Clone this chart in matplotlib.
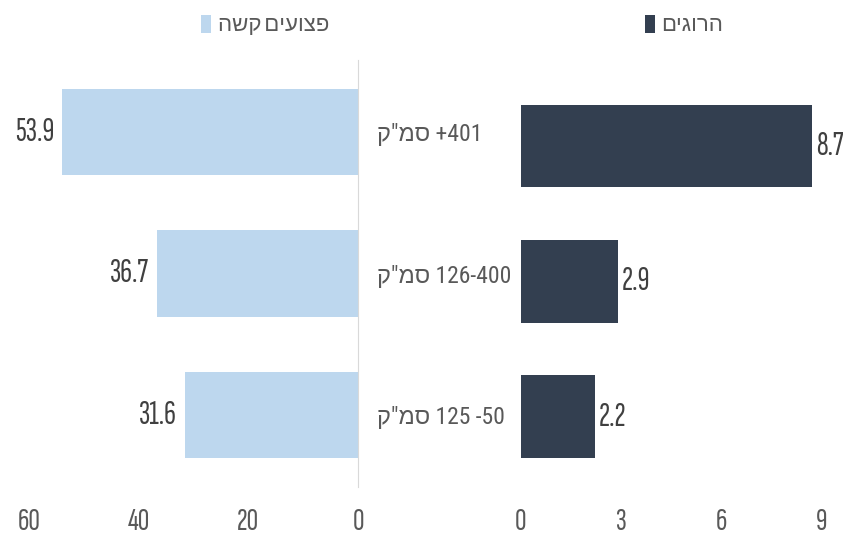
import matplotlib
matplotlib.use("Agg")
import matplotlib.pyplot as plt

# data (hebrew strings written in visual order, matplotlib has no bidi)
categories = ['ק"מס +401', 'ק"מס 126-400', 'ק"מס 125 -50']
injured = [53.9, 36.7, 31.6]
killed = [8.7, 2.9, 2.2]
injured_label = 'השק םיעוצפ'
killed_label = 'םיגורה'

# condensed face for digits, Liberation Sans picks up the hebrew letters
plt.rcParams['font.family'] = ['Sofia Sans Extra Condensed', 'Roboto Condensed',
                               'Liberation Sans', 'DejaVu Sans']
cat_family = ['Roboto Condensed', 'Liberation Sans', 'DejaVu Sans']

light = '#BDD7EE'
dark = '#333F50'
txt = '#595959'
W, H = 843, 542
fs = 24

fig = plt.figure(figsize=(W / 100, H / 100), dpi=100)

def box(x0, x1, y_top, y_bot):
    return [x0 / W, 1 - y_bot / H, (x1 - x0) / W, (y_bot - y_top) / H]

ax_l = fig.add_axes(box(29, 358, 60, 487))
ax_r = fig.add_axes(box(521, 822, 77, 485.5))

pos = list(range(len(categories)))

bl = ax_l.barh(pos, injured, height=0.61, color=light, label=injured_label)
ax_l.set_xlim(60, 0)
ax_l.set_ylim(2.51, -0.51)
ax_l.set_xticks([60, 40, 20, 0])
for s in ['top', 'left', 'bottom']:
    ax_l.spines[s].set_visible(False)
ax_l.spines['right'].set_color('#D9D9D9')
ax_l.yaxis.tick_right()
ax_l.set_yticks(pos, labels=categories)
ax_l.tick_params(axis='y', length=0, pad=14, labelsize=17, labelcolor=txt)
for lab in ax_l.get_yticklabels():
    lab.set_fontfamily(cat_family)
ax_l.tick_params(axis='x', length=0, pad=15, labelsize=fs - 1, labelcolor=txt)
for i, v in enumerate(injured):
    ax_l.annotate(f'{v}', xy=(v, i), xytext=(-8, 0), textcoords='offset pixels',
                  ha='right', va='center', fontsize=fs, color='#404040',
                  fontweight='light')

br = ax_r.barh(pos, killed, height=0.61, color=dark, label=killed_label)
ax_r.set_xlim(0, 9)
ax_r.set_ylim(2.51, -0.51)
ax_r.set_xticks([0, 3, 6, 9])
ax_r.set_yticks([])
for s in ax_r.spines.values():
    s.set_visible(False)
ax_r.tick_params(axis='x', length=0, pad=16, labelsize=fs - 1, labelcolor=txt)
for i, v in enumerate(killed):
    ax_r.annotate(f'{v}', xy=(v, i), xytext=(4, 0), textcoords='offset pixels',
                  ha='left', va='center', fontsize=fs, color='#404040',
                  fontweight='light')

for ax in (ax_l, ax_r):
    for lab in ax.get_xticklabels():
        lab.set_fontweight('light')

for ax, handle, cx in [(ax_l, bl, 265.5), (ax_r, br, 684)]:
    leg = ax.legend(handles=[handle], loc='center', bbox_to_anchor=(cx / W, 1 - 25 / H),
                    bbox_transform=fig.transFigure, frameon=False, fontsize=16,
                    handlelength=0.45, handleheight=0.9, handletextpad=0.3,
                    borderpad=0, borderaxespad=0)
    for t in leg.get_texts():
        t.set_color(txt)

fig.savefig('out.png', dpi=100)
